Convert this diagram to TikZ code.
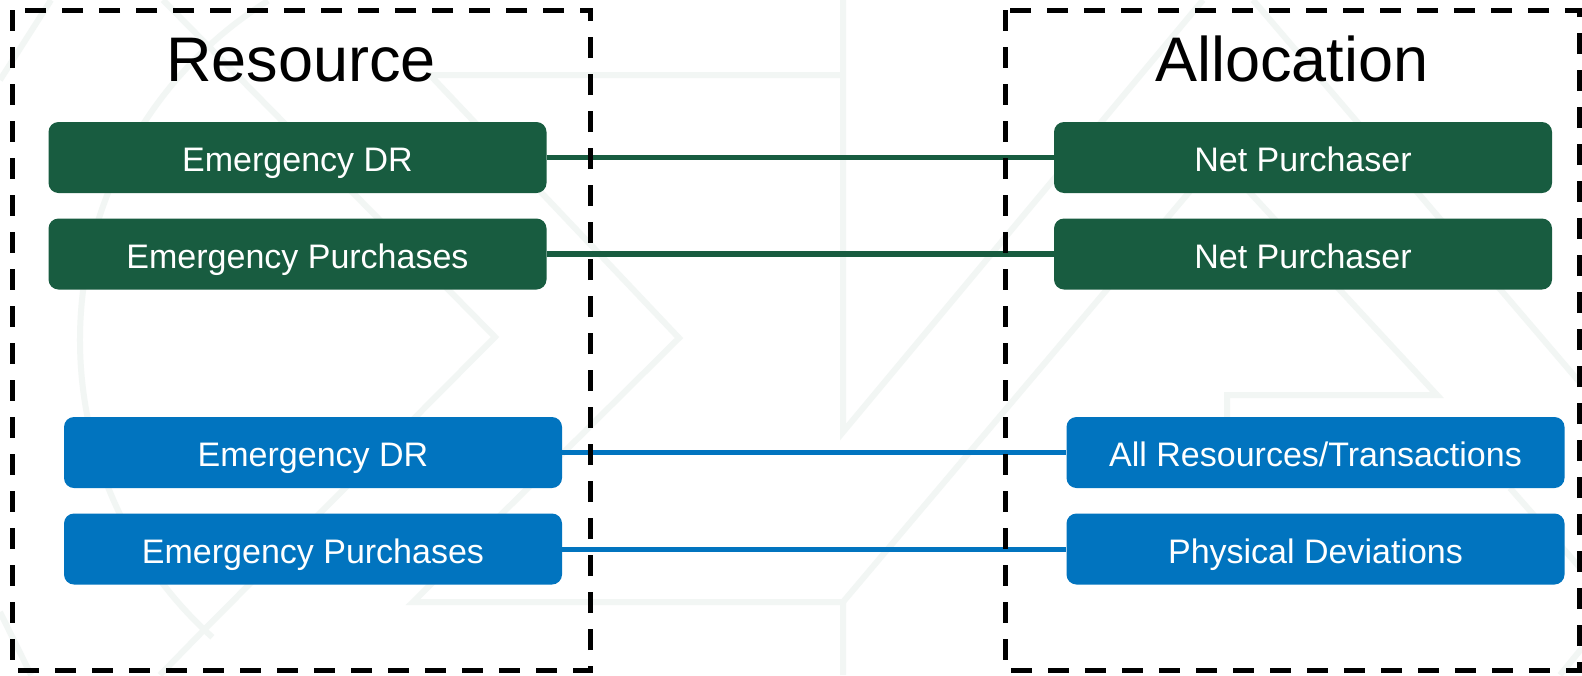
\documentclass[tikz,border=0pt]{standalone}
\usepackage{fontspec}
\setmainfont{Liberation Sans}
\definecolor{dkgreen}{HTML}{185C40}
\definecolor{mblue}{HTML}{0174BF}
\definecolor{wm}{HTML}{F2F6F4}
\begin{document}
\begin{tikzpicture}[x=1pt,y=-1pt,
  box/.style={rounded corners=10pt, minimum width=498pt, minimum height=71pt,
    inner sep=0pt, text=white, font=\fontsize{34}{40}\selectfont,
    text height=28pt, text depth=0pt},
  gbox/.style={box, fill=dkgreen},
  bbox/.style={box, fill=mblue},
  title/.style={font=\fontsize{63}{70}\selectfont, anchor=base, inner sep=0pt},
  frame/.style={draw=black, line width=5pt, dash pattern=on 21pt off 16pt},
  glink/.style={draw=dkgreen, line width=5.5pt},
  blink/.style={draw=mblue, line width=5pt},
  wmline/.style={draw=wm, line width=6pt}]
\useasboundingbox (0,0) rectangle (1582,675);
\fill[white] (0,0) rectangle (1582,675);
% faint watermark
\begin{scope}[wmline]
  \draw (163,0) -- (495,337) -- (199,635) -- (160,675);
  \draw (480,340) ++(132:400) arc[start angle=132, end angle=238, radius=400];
  \draw (51,0) -- (0,80);
  \draw (0,612) -- (31,675);
  \draw (843,75) -- (430,75) -- (679,338) -- (413,602) -- (843,602) -- (843,675);
  \draw (843,0) -- (843,432) -- (1203,0);
  \draw (843,602) -- (1218,158) -- (1437,395) -- (1227,395) -- (1227,420);
  \draw (1253,0) -- (1582,385);
  \draw (1510,488) -- (1582,570);
  \draw (1560,675) -- (1582,648);
\end{scope}
% boxes
\node[gbox] (r1) at (297.5,157.5) {Emergency DR};
\node[gbox] (r2) at (297.5,254) {Emergency Purchases};
\node[bbox] (r3) at (313,452.5) {Emergency DR};
\node[bbox] (r4) at (313,549) {Emergency Purchases};
\node[gbox] (a1) at (1303,157.5) {Net Purchaser};
\node[gbox] (a2) at (1303,254) {Net Purchaser};
\node[bbox] (a3) at (1315.5,452.5) {All Resources/Transactions};
\node[bbox] (a4) at (1315.5,549) {Physical Deviations};
% connectors
\draw[glink] (r1.east) -- (a1.west);
\draw[glink] (r2.east) -- (a2.west);
\draw[blink] (r3.east) -- (a3.west);
\draw[blink] (r4.east) -- (a4.west);
% dashed frames
\draw[frame] (12,10) rectangle (590,670);
\draw[frame] (1005,10) rectangle (1579,670);
% titles
\node[title] (tres) at (301,81) {Resource};
\node[title] (talloc) at (1292,81) {Allocation};
\end{tikzpicture}
\end{document}
